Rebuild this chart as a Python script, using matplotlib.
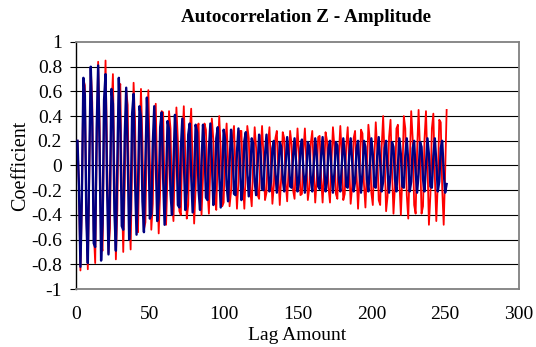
import matplotlib
matplotlib.use("Agg")
import matplotlib.pyplot as plt

# lag values and the two autocorrelation series
lags = list(range(1, 252))

navy = [
    0.20, -0.17, -0.82, -0.23, 0.71, 0.57, -0.43, -0.79, 0.04, 0.80,
    0.35, -0.63, -0.66, 0.30, 0.81, 0.10, -0.77, -0.47, 0.53, 0.74,
    -0.15, -0.72, -0.20, 0.62, 0.50, -0.37, -0.69, 0.04, 0.71, 0.31,
    -0.49, -0.52, 0.24, 0.63, 0.08, -0.60, -0.36, 0.42, 0.58, -0.13,
    -0.56, -0.16, 0.48, 0.39, -0.29, -0.54, 0.03, 0.55, 0.24, -0.43,
    -0.39, 0.18, 0.48, 0.06, -0.45, -0.27, 0.31, 0.43, -0.10, -0.48,
    -0.12, 0.36, 0.29, -0.22, -0.40, 0.02, 0.41, 0.18, -0.32, -0.34,
    0.14, 0.38, 0.05, -0.36, -0.22, 0.25, 0.34, -0.08, -0.38, -0.11,
    0.33, 0.27, -0.20, -0.36, 0.02, 0.33, 0.15, -0.26, -0.28, 0.13,
    0.34, 0.04, -0.32, -0.19, 0.22, 0.31, -0.07, -0.34, -0.10, 0.29,
    0.21, -0.16, -0.29, 0.02, 0.29, 0.13, -0.23, -0.24, 0.11, 0.30,
    0.04, -0.28, -0.17, 0.20, 0.27, -0.05, -0.25, -0.07, 0.22, 0.18,
    -0.13, -0.24, 0.01, 0.25, 0.11, -0.19, -0.20, 0.09, 0.25, 0.03,
    -0.21, -0.13, 0.14, 0.20, -0.05, -0.22, -0.06, 0.19, 0.15, -0.11,
    -0.21, 0.01, 0.23, 0.09, -0.17, -0.18, 0.08, 0.22, 0.03, -0.21,
    -0.13, 0.14, 0.21, -0.05, -0.22, -0.06, 0.19, 0.15, -0.11, -0.21,
    0.01, 0.22, 0.09, -0.17, -0.19, 0.08, 0.23, 0.03, -0.21, -0.13,
    0.14, 0.20, -0.05, -0.22, -0.06, 0.19, 0.16, -0.11, -0.21, 0.01,
    0.22, 0.09, -0.17, -0.18, 0.08, 0.22, 0.03, -0.21, -0.13, 0.14,
    0.20, -0.05, -0.22, -0.06, 0.20, 0.15, -0.11, -0.21, 0.01, 0.22,
    0.09, -0.17, -0.18, 0.08, 0.23, 0.03, -0.21, -0.13, 0.14, 0.20,
    -0.05, -0.22, -0.06, 0.19, 0.15, -0.11, -0.21, 0.01, 0.22, 0.09,
    -0.17, -0.18, 0.08, 0.22, 0.03, -0.21, -0.13, 0.14, 0.20, -0.05,
    -0.22, -0.06, 0.19, 0.15, -0.11, -0.21, 0.01, 0.22, 0.09, -0.17,
    -0.18, 0.08, 0.22, 0.03, -0.21, -0.13, 0.14, 0.20, -0.05, -0.22,
    -0.15,
]

red = [
    0.20, -0.16, -0.85, -0.29, 0.70, 0.65, -0.35, -0.84, -0.09, 0.79,
    0.51, -0.52, -0.79, 0.11, 0.84, 0.34, -0.66, -0.69, 0.30, 0.85,
    0.14, -0.71, -0.51, 0.44, 0.74, -0.05, -0.76, -0.36, 0.57, 0.66,
    -0.20, -0.70, -0.17, 0.61, 0.49, -0.35, -0.68, 0.00, 0.67, 0.36,
    -0.43, -0.54, 0.14, 0.62, 0.19, -0.52, -0.46, 0.28, 0.61, 0.04,
    -0.52, -0.31, 0.35, 0.50, -0.09, -0.55, -0.20, 0.44, 0.43, -0.21,
    -0.48, -0.06, 0.44, 0.30, -0.28, -0.45, 0.05, 0.47, 0.20, -0.37,
    -0.40, 0.16, 0.48, 0.10, -0.43, -0.32, 0.26, 0.46, -0.02, -0.47,
    -0.19, 0.29, 0.34, -0.11, -0.40, -0.10, 0.34, 0.29, -0.19, -0.39,
    -0.01, 0.38, 0.21, -0.27, -0.36, 0.08, 0.40, 0.13, -0.33, -0.30,
    0.15, 0.34, 0.03, -0.33, -0.21, 0.22, 0.32, -0.05, -0.35, -0.13,
    0.28, 0.28, -0.13, -0.35, -0.06, 0.32, 0.22, -0.20, -0.33, 0.03,
    0.31, 0.14, -0.24, -0.27, 0.10, 0.32, 0.07, -0.28, -0.22, 0.17,
    0.31, 0.00, -0.31, -0.16, 0.22, 0.28, -0.08, -0.32, -0.09, 0.27,
    0.22, -0.14, -0.29, -0.02, 0.28, 0.17, -0.20, -0.27, 0.05, 0.30,
    0.10, -0.24, -0.23, 0.12, 0.30, 0.04, -0.28, -0.18, 0.18, 0.28,
    -0.03, -0.30, -0.12, 0.23, 0.24, -0.10, -0.30, -0.06, 0.27, 0.20,
    -0.18, -0.30, 0.02, 0.31, 0.15, -0.23, -0.27, 0.09, 0.32, 0.08,
    -0.28, -0.23, 0.16, 0.31, 0.00, -0.31, -0.17, 0.22, 0.28, -0.07,
    -0.35, -0.11, 0.29, 0.26, -0.15, -0.34, -0.03, 0.33, 0.20, -0.22,
    -0.32, 0.05, 0.35, 0.13, -0.28, -0.32, 0.15, 0.40, 0.06, -0.37,
    -0.25, 0.23, 0.37, -0.04, -0.39, -0.17, 0.30, 0.33, -0.13, -0.40,
    -0.09, 0.40, 0.30, -0.24, -0.43, 0.01, 0.44, 0.22, -0.32, -0.39,
    0.12, 0.45, 0.12, -0.39, -0.33, 0.21, 0.44, 0.02, -0.48, -0.24,
    0.30, 0.42, -0.09, -0.45, -0.15, 0.37, 0.35, -0.19, -0.48, -0.05,
    0.45,
]

yticks = [-1, -0.8, -0.6, -0.4, -0.2, 0, 0.2, 0.4, 0.6, 0.8, 1]
ytick_labels = ["-1", "-0.8", "-0.6", "-0.4", "-0.2", "0",
                "0.2", "0.4", "0.6", "0.8", "1"]
xticks = [0, 50, 100, 150, 200, 250, 300]

plt.rcParams["font.family"] = ["Liberation Serif", "DejaVu Serif"]

fig = plt.figure(figsize=(5.36, 3.47), dpi=100)
ax = fig.add_axes([76 / 536, 1 - 289 / 347, 443 / 536, 247 / 347])

# horizontal gridlines
for y in yticks[1:-1]:
    ax.axhline(y, color="black", lw=0.8, zorder=1)

ax.plot(lags, red, color="#ff0000", lw=1.3, zorder=2)
ax.plot(lags, navy, color="#000080", lw=1.7, zorder=3)

ax.set_xlim(0, 300)
ax.set_ylim(-1, 1)
ax.set_xticks(xticks)
ax.set_xticklabels([str(v) for v in xticks])
ax.set_yticks(yticks)
ax.set_yticklabels(ytick_labels)
ax.tick_params(axis="x", length=0, labelsize=14, pad=12)
ax.tick_params(axis="y", length=4, width=0.8, labelsize=14, pad=6)

for side in ["top", "right", "bottom"]:
    ax.spines[side].set_color("#808080")
    ax.spines[side].set_linewidth(1.3)
ax.spines["left"].set_color("black")
ax.spines["left"].set_linewidth(1.0)

ax.set_xlabel("Lag Amount", fontsize=14, labelpad=3)
ax.set_ylabel("Coefficient", fontsize=14.5, labelpad=1)
fig.text(306 / 536, 1 - 17 / 347, "Autocorrelation Z - Amplitude",
         fontsize=13.8, fontweight="bold", ha="center", va="center")

fig.savefig("out.png", dpi=100)
